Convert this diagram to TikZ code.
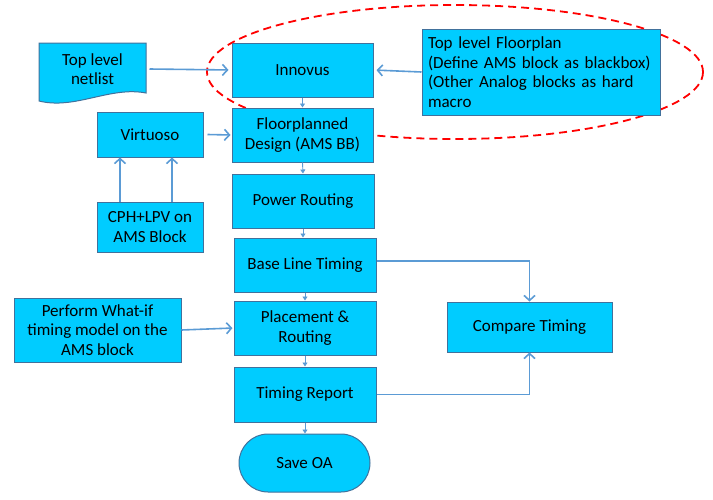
\documentclass[tikz,border=0pt]{standalone}
\usepackage{fontspec}
\setmainfont{Carlito}
\usetikzlibrary{arrows.meta,shapes.misc}
\definecolor{boxfill}{RGB}{0,204,255}
\definecolor{boxline}{RGB}{65,113,156}
\definecolor{conn}{RGB}{91,155,213}
\begin{document}
\begin{tikzpicture}[x=1pt,y=-1pt,
  box/.style={draw=boxline, fill=boxfill, line width=1pt, font=\fontsize{17}{19.5}\selectfont, align=center, inner sep=0pt},
  link/.style={draw=conn, line width=1.6pt, -{Straight Barb[length=5pt,width=11pt,line width=1.6pt]}},
  chain/.style={draw=conn, line width=0.9pt, -{Triangle[length=4pt,width=5pt]}},
  halo/.style={draw=red, line width=1.8pt, dash pattern=on 8pt off 5pt}]
\useasboundingbox (0,0) rectangle (713,499);
% dashed red ellipse (behind)
\draw[halo] (455,72) ellipse [x radius=248, y radius=67];
% document shape for netlist
\draw[boxline, fill=boxfill, line width=1pt] (39,43) -- (146,43) -- (146,93)
  .. controls (110,86) and (75,110) .. (39,101) -- cycle;
\node[box, draw=none, fill=none, minimum width=107pt, minimum height=50pt] (netlist) at (92.5,69) {Top level\\netlist};
% main chain
\node[box, minimum width=141pt, minimum height=54pt] (innovus) at (302.5,70) {Innovus};
\node[box, minimum width=141pt, minimum height=54pt] (fp) at (302.5,135) {Floorplanned\\Design (AMS BB)};
\node[box, minimum width=142pt, minimum height=54pt] (power) at (303,201) {Power Routing};
\node[box, minimum width=142pt, minimum height=54pt] (base) at (305,265) {Base Line Timing};
\node[box, minimum width=142pt, minimum height=54pt] (place) at (305,328) {Placement \&\\Routing};
\node[box, minimum width=142pt, minimum height=55pt] (report) at (305,394.5) {Timing Report};
\node[box, rounded rectangle, minimum width=131pt, minimum height=58pt] (save) at (304.5,463) {Save OA};
% side boxes
\node[box, minimum width=106pt, minimum height=45pt] (virt) at (150,134.5) {Virtuoso};
\node[box, minimum width=106pt, minimum height=50pt] (cph) at (150,227) {CPH+LPV on\\AMS Block};
\node[box, minimum width=167pt, minimum height=64pt] (whatif) at (97.5,330) {Perform What-if\\timing model on the\\AMS block};
\node[box, minimum width=165pt, minimum height=50pt] (compare) at (529.5,327) {Compare Timing};
\node[box, align=left, text width=226pt, inner xsep=6pt, minimum height=86pt] (tlf) at (541,72) {Top level Floorplan\\(Define AMS block as blackbox)\\(Other Analog blocks as hard\\macro};
% chain arrows
\draw[chain] (innovus.south) -- (fp.north);
\draw[chain] (fp.south) -- (power.north);
\draw[chain] (power.south) -- (power.south |- base.north);
\draw[chain] (base.south) -- (place.north);
\draw[chain] (place.south) -- (report.north);
\draw[chain] (report.south) -- (report.south |- save.north);
% connectors
\draw[link, shorten >=3pt] ([xshift=3pt]netlist.east) -- (innovus.west);
\draw[link, shorten >=3pt] (tlf.west) -- (innovus.east);
\draw[link, shorten >=1pt] ([xshift=4pt]virt.east) -- (fp.west);
\draw[link] ([xshift=-30pt]cph.north) -- ([xshift=-30pt]virt.south);
\draw[link] ([xshift=22pt]cph.north) -- ([xshift=22pt]virt.south);
\draw[link, shorten >=1pt] (whatif.east) -- (place.west);
\draw[link] ([yshift=4pt]base.east) -| (compare.north);
\draw[link] (report.east) -| (compare.south);
\end{tikzpicture}
\end{document}
